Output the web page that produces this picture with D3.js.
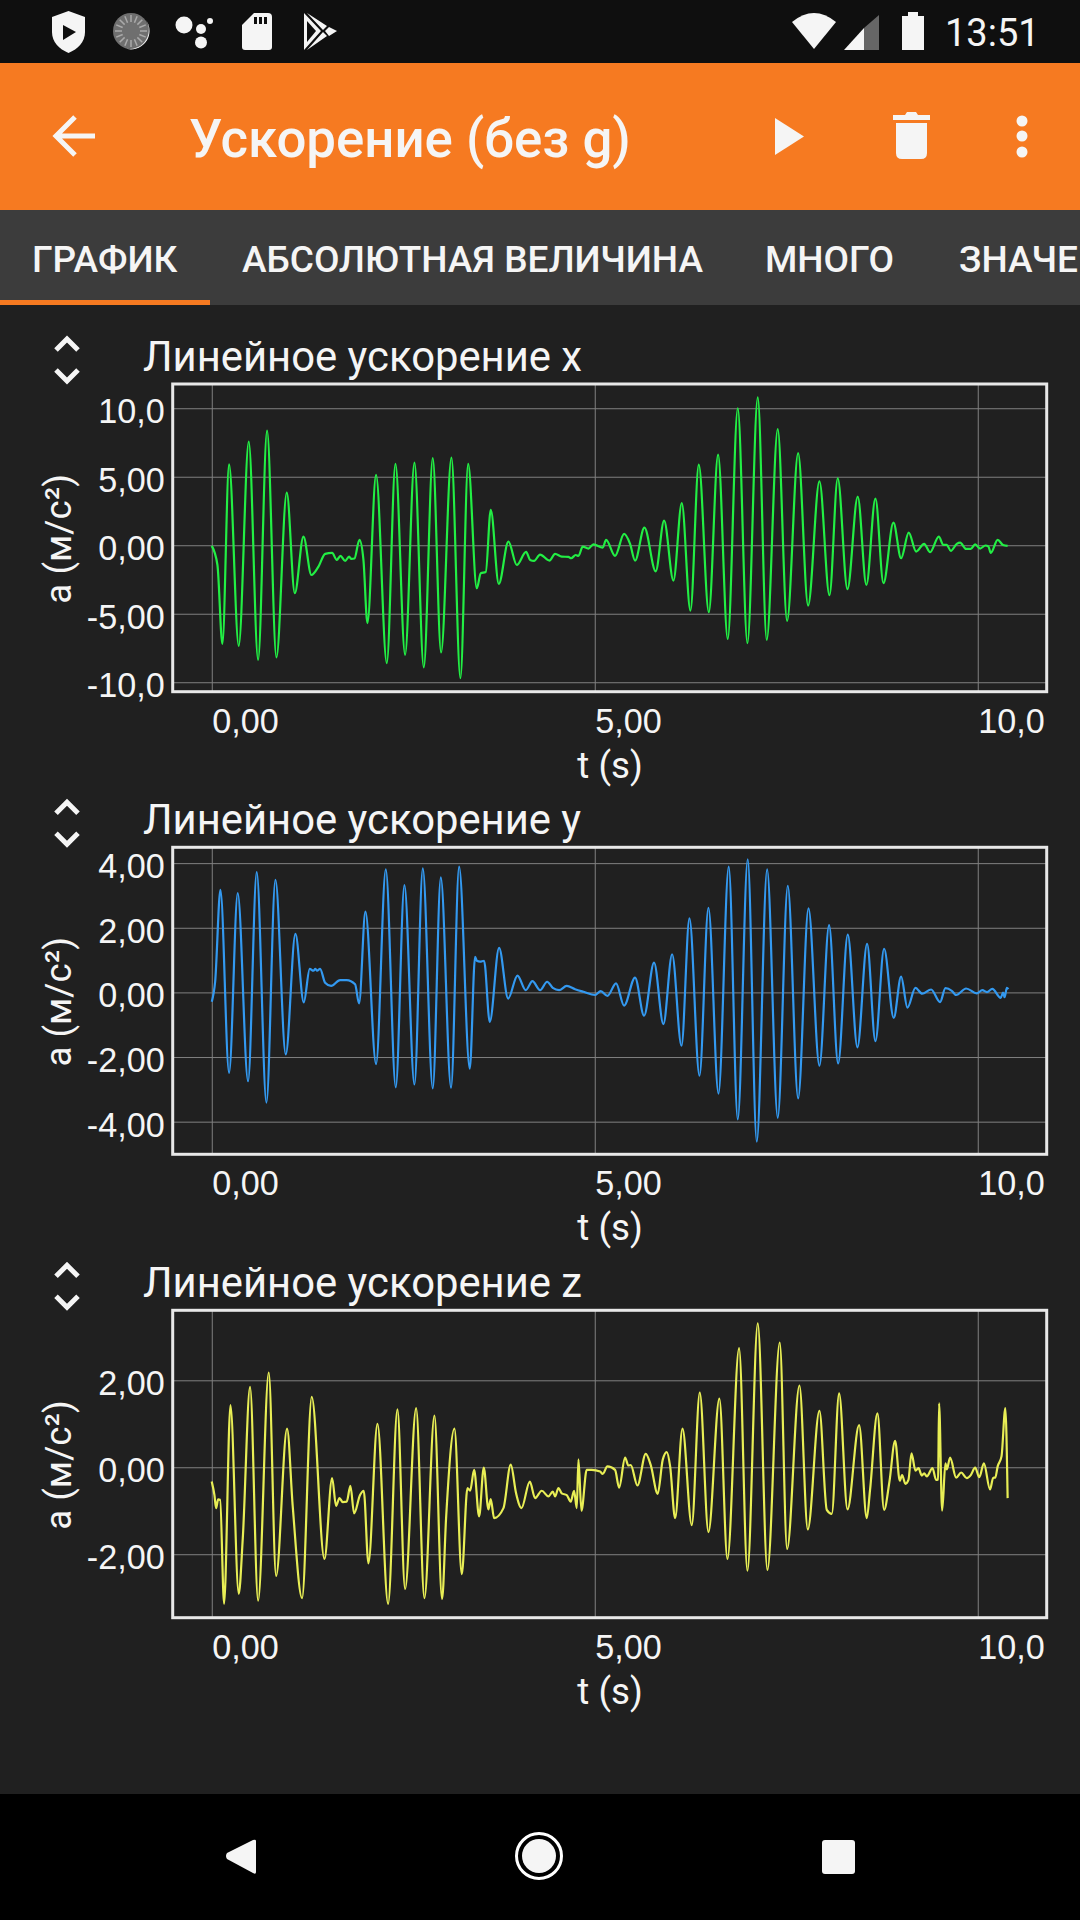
<!DOCTYPE html>
<html lang="ru">
<head>
<meta charset="utf-8">
<title>Ускорение (без g)</title>
<script src="https://cdn.jsdelivr.net/npm/d3@7"></script>
<style>
    html, body { margin: 0; padding: 0; background: #202020; }
    svg { display: block; font-family: Roboto, sans-serif; }
    text { fill: #f5f5f5; }
</style>
</head>
<body>
<svg id="chart" width="1080" height="1920"></svg>
<script>
// Values: turning points of each trace, in s and m/s²
const timeX = [0,0.074,0.139,0.226,0.352,0.483,0.605,0.722,0.844,0.979,1.084,1.197,1.301,1.393,1.48,1.571,1.632,1.68,1.741,1.793,1.823,1.862,1.928,1.98,2.032,2.145,2.285,2.398,2.524,2.646,2.768,2.885,2.994,3.129,3.246,3.347,3.46,3.512,3.577,3.642,3.747,3.873,3.982,4.104,4.156,4.208,4.286,4.408,4.482,4.569,4.656,4.691,4.752,4.787,4.843,4.917,4.983,5.104,5.148,5.265,5.383,5.461,5.526,5.648,5.796,5.905,6.027,6.136,6.249,6.358,6.489,6.61,6.736,6.867,6.993,7.128,7.245,7.389,7.511,7.655,7.785,7.933,8.064,8.172,8.299,8.433,8.546,8.664,8.769,8.899,8.999,9.099,9.195,9.3,9.378,9.491,9.552,9.596,9.648,9.726,9.77,9.848,9.909,9.966,10.03,10.1,10.14,10.17,10.26,10.33,10.39];
const accelX = [-0.05,-1.44,-7.2,5.91,-7.35,7.57,-8.37,8.37,-8.18,3.84,-3.5,0.63,-2.17,-1.56,-0.63,-0.56,-1.07,-0.78,-1.14,-0.83,-1,-0.97,0.39,-1.07,-5.69,5.13,-8.61,5.94,-8,6.03,-8.91,6.37,-7.83,6.4,-9.71,5.94,-3.14,-2.04,-1.95,2.58,-2.82,0.27,-1.44,-0.49,-1.07,-1.14,-0.68,-1.12,-0.63,-0.83,-0.85,-0.95,-0.71,-0.78,-0.1,-0.24,0.07,-0.17,0.39,-0.78,0.83,0.1,-1.12,1.29,-1.9,1.8,-2.58,3.07,-4.77,5.89,-4.89,6.62,-6.84,10,-7.15,10.8,-6.91,8.47,-5.52,6.72,-4.4,4.67,-3.65,4.89,-3.21,3.55,-2.9,3.41,-2.77,1.65,-0.95,0.92,-0.46,0.1,-0.51,0.63,0.02,0.02,-0.41,0.1,0.19,-0.27,-0.27,0.07,-0.24,-0.02,-0.1,-0.56,0.39,0.02,-0.05];

const timeY = [0,0.044,0.113,0.226,0.339,0.474,0.587,0.714,0.831,0.966,1.092,1.201,1.279,1.327,1.353,1.375,1.414,1.48,1.558,1.675,1.762,1.871,1.923,2.006,2.145,2.272,2.402,2.515,2.646,2.755,2.885,2.99,3.124,3.229,3.368,3.438,3.46,3.503,3.555,3.629,3.751,3.869,3.991,4.099,4.186,4.286,4.378,4.452,4.534,4.634,4.743,4.852,5.004,5.078,5.165,5.278,5.383,5.526,5.644,5.774,5.896,6.01,6.132,6.236,6.367,6.484,6.615,6.749,6.867,6.997,7.115,7.25,7.389,7.52,7.655,7.79,7.933,8.059,8.177,8.303,8.429,8.555,8.664,8.777,8.903,8.999,9.082,9.186,9.274,9.391,9.508,9.578,9.661,9.718,9.848,9.987,10.06,10.12,10.19,10.3,10.33,10.35,10.38,10.4];
const accelY = [-0.29,0.33,3.17,-2.49,3.07,-2.75,3.72,-3.41,3.48,-1.92,1.81,-0.31,0.73,0.67,0.73,0.67,0.73,0.3,0.2,0.38,0.38,0.25,-0.34,2.5,-2.22,3.81,-2.94,3.32,-2.85,3.84,-2.97,3.56,-2.95,3.89,-2.36,1.1,0.98,0.95,0.98,-0.91,1.38,-0.19,0.52,0.07,0.35,0.07,0.33,0.14,0.07,0.2,0.1,0.02,-0.08,0.04,-0.11,0.28,-0.41,0.46,-0.72,0.92,-0.98,1.18,-1.65,2.29,-2.58,2.62,-3.13,3.89,-3.93,4.12,-4.62,3.81,-3.88,3.3,-3.28,2.6,-2.27,2.08,-2.2,1.79,-1.7,1.5,-1.51,1.35,-0.79,0.49,-0.47,0.14,-0.04,0.09,-0.3,0.13,0.05,-0.08,0.12,-0.03,0.07,0.01,0.11,-0.17,-0.01,-0.15,0.14,0.1];

const timeZ = [0,0.035,0.057,0.083,0.109,0.161,0.244,0.352,0.405,0.5,0.605,0.744,0.84,0.983,1.057,1.179,1.305,1.471,1.571,1.623,1.667,1.71,1.762,1.81,1.858,1.936,1.984,2.045,2.163,2.302,2.424,2.524,2.668,2.776,2.907,3.007,3.059,3.168,3.264,3.338,3.373,3.425,3.49,3.551,3.612,3.642,3.686,3.808,3.903,3.973,4.043,4.152,4.221,4.308,4.395,4.452,4.482,4.526,4.569,4.634,4.686,4.73,4.765,4.787,4.826,4.895,4.961,5.07,5.104,5.165,5.265,5.318,5.396,5.439,5.47,5.557,5.666,5.731,5.822,5.887,5.94,5.984,6.049,6.145,6.266,6.371,6.484,6.627,6.732,6.884,6.993,7.128,7.254,7.415,7.511,7.672,7.781,7.933,8.029,8.094,8.19,8.299,8.451,8.551,8.594,8.69,8.777,8.847,8.921,8.982,9.012,9.056,9.095,9.135,9.187,9.226,9.27,9.3,9.335,9.409,9.456,9.482,9.495,9.535,9.578,9.596,9.639,9.718,9.783,9.857,9.909,9.966,10.02,10.08,10.16,10.2,10.23,10.26,10.31,10.36,10.39];
const accelZ = [-0.33,-0.64,-0.94,-0.74,-0.75,-3.14,1.43,-2.91,-1.63,1.85,-3.07,2.18,-2.5,0.89,-0.9,-3.01,1.62,-2.11,-0.25,-0.89,-0.71,-0.8,-0.79,-0.43,-1.06,-0.64,-0.54,-2.21,1,-3.14,1.33,-2.8,1.36,-3.01,1.19,-3.03,-1.17,0.89,-2.46,-0.48,-0.54,-0.06,-1.13,-0.01,-0.97,-0.73,-1.17,-0.94,0.06,-0.6,-0.94,-0.33,-0.71,-0.54,-0.67,-0.56,-0.67,-0.48,-0.6,-0.64,-0.79,-0.54,-0.94,0.18,-1,-0.06,-0.06,-0.1,-0.15,0.02,-0.06,-0.47,0.22,0.04,0.05,-0.42,0.31,0.05,-0.61,0.17,0.35,0.02,-1.17,0.89,-1.33,1.72,-1.49,1.58,-2.11,2.74,-2.38,3.31,-2.36,2.87,-1.88,1.88,-1.43,1.3,-0.98,-1.07,1.7,-0.97,0.97,-1.17,-0.52,1.24,-0.98,-0.33,0.61,-0.31,-0.18,-0.38,-0.29,0.32,-0.08,-0.02,-0.19,-0.14,-0.21,-0.02,-0.29,-0.28,1.47,-1,0.09,-0.05,0.22,-0.24,-0.12,-0.25,-0.18,-0.01,-0.23,0.09,-0.51,-0.25,-0.23,0.02,0.25,1.36,-0.71];

const xTicks = [0, 5, 10];
const xTickLabels = ["0,00", "5,00", "10,0"];
const yTicksX = [10, 5, 0, -5, -10];
const yLabelsX = ["10,0", "5,00", "0,00", "-5,00", "-10,0"];
const yTicksY = [4, 2, 0, -2, -4];
const yLabelsY = ["4,00", "2,00", "0,00", "-2,00", "-4,00"];
const yTicksZ = [2, 0, -2];
const yLabelsZ = ["2,00", "0,00", "-2,00"];
const tabs = ["ГРАФИК", "АБСОЛЮТНАЯ ВЕЛИЧИНА", "МНОГО", "ЗНАЧЕ"];

const svg = d3.select("#chart");

// Page chrome
svg.append("rect").attr("width", 1080).attr("height", 1920).attr("fill", "#202020");
svg.append("rect").attr("width", 1080).attr("height", 63).attr("fill", "#0f0f0f");
svg.append("rect").attr("y", 63).attr("width", 1080).attr("height", 147).attr("fill", "#f67a21");
svg.append("rect").attr("y", 210).attr("width", 1080).attr("height", 95).attr("fill", "#3c3c3c");
svg.append("rect").attr("y", 300).attr("width", 210).attr("height", 5).attr("fill", "#f67a21");
svg.append("rect").attr("y", 1794).attr("width", 1080).attr("height", 126).attr("fill", "#000");

const icons = svg.append("g").attr("fill", "#f5f5f5");
const iconPath = (d, fill) => icons.append("path").attr("d", d).attr("fill", fill || "#f5f5f5");

// Status bar, left side
iconPath("M68.5 11 L85 17 V32 C85 42 78 49 68.5 53 C59 49 52 42 52 32 V17 Z");
iconPath("M63 25 L76 32 L63 40 Z", "#0f0f0f");
icons.append("circle").attr("cx", 131).attr("cy", 31).attr("r", 18).attr("fill", "#6f6f6f");
iconPath("M146 20 A18.5 18.5 0 0 1 124 48 A19 19 0 0 0 146 20 Z");
d3.range(16).forEach((i) => {
    const a = (i / 16) * 2 * Math.PI;
    icons.append("line")
        .attr("x1", 131 + 9 * Math.cos(a)).attr("y1", 31 + 9 * Math.sin(a))
        .attr("x2", 131 + 16 * Math.cos(a)).attr("y2", 31 + 16 * Math.sin(a))
        .attr("stroke", "#aaa").attr("stroke-width", 1.5);
});
[[184, 25, 8.5], [201, 29, 5], [201, 42.5, 6], [210, 21, 3]].forEach(([cx, cy, r]) => {
    icons.append("circle").attr("cx", cx).attr("cy", cy).attr("r", r);
});
iconPath("M254 13 H268 Q272 13 272 17 V47 Q272 50 269 50 H245 Q242 50 242 47 V25 Z");
iconPath("M254 17 h3 v7 h-3 Z M259 17 h3 v7 h-3 Z M264 17 h3 v7 h-3 Z", "#0f0f0f");
iconPath("M304 13 L321 31 L304 50 Z M307 13 L327 26 L323 30 Z M307 50 L327 36 L323 32 Z M329 27 L337 31 L329 36 L325 31 Z");
iconPath("M307 21 L316 31 L307 42 Z", "#0f0f0f");

// Status bar, right side
iconPath("M792 22 Q814 4 836 22 L814 49 Z");
iconPath("M844 50 L864 28 V50 Z");
iconPath("M864 28 L879 15 V50 H864 Z", "#666");
iconPath("M908 16 V12 H918 V16 H924 V50 H902 V16 Z");
svg.append("text").attr("x", 945).attr("y", 46).attr("font-size", 38).text("13:51");

// Toolbar
icons.append("path")
    .attr("d", "M95 136 H56 M75 117 L56 136 L75 155")
    .attr("fill", "none")
    .attr("stroke", "#f5f5f5")
    .attr("stroke-width", 5);
svg.append("text").attr("x", 189).attr("y", 157)
    .attr("font-size", 52.8).attr("font-weight", 500).text("Ускорение (без g)");
iconPath("M775 118 L804 136.5 L775 155 Z");
iconPath("M893 115 H905 L907 112 H916 L918 115 H930 V120 H893 Z");
iconPath("M896 123 H927 V153 Q927 159 921 159 H902 Q896 159 896 153 Z");
[121, 136, 152].forEach((cy) => {
    icons.append("circle").attr("cx", 1022).attr("cy", cy).attr("r", 5.5);
});

// Tabs
const tabX = [32, 242, 765, 959];
svg.append("g").selectAll("text")
    .data(tabs)
    .join("text")
    .attr("x", (d, i) => tabX[i])
    .attr("y", 272)
    .attr("font-size", 37)
    .attr("font-weight", 500)
    .text((d) => d);

// Navigation bar
iconPath("M256 1841 V1872 Q256 1875 253 1873 L227 1859 Q225 1856 227 1853 L253 1840 Q256 1839 256 1841 Z");
icons.append("circle").attr("cx", 539).attr("cy", 1856).attr("r", 22.5)
    .attr("fill", "none").attr("stroke", "#fff").attr("stroke-width", 3);
icons.append("circle").attr("cx", 539).attr("cy", 1856).attr("r", 17);
icons.append("rect").attr("x", 822).attr("y", 1840).attr("width", 33).attr("height", 34).attr("rx", 3);

// The three graphs
const plots = [
    { title: "Линейное ускорение x", time: timeX, values: accelX, color: "#22ee44",
      yTicks: yTicksX, yLabels: yLabelsX, yDomain: [-10.69, 11.77], top: 384, bottom: 691.7 },
    { title: "Линейное ускорение y", time: timeY, values: accelY, color: "#3399f0",
      yTicks: yTicksY, yLabels: yLabelsY, yDomain: [-5.01, 4.49], top: 847.3, bottom: 1154.3 },
    { title: "Линейное ускорение z", time: timeZ, values: accelZ, color: "#e8ee55",
      yTicks: yTicksZ, yLabels: yLabelsZ, yDomain: [-3.46, 3.61], top: 1310.3, bottom: 1617.7 },
];

const left = 172.7;
const right = 1046.7;

plots.forEach((p) => {
    const x = d3.scaleLinear().domain([-0.51, 10.9]).range([left, right]);
    const y = d3.scaleLinear().domain(p.yDomain).range([p.bottom, p.top]);
    const g = svg.append("g");

    // Axes double as the grid, their ticks run across the plot
    const xAxis = g.append("g")
        .attr("transform", `translate(0,${p.bottom})`)
        .call(d3.axisBottom(x)
            .tickValues(xTicks)
            .tickFormat((d, i) => xTickLabels[i])
            .tickSize(-(p.bottom - p.top)));
    xAxis.select(".domain").remove();
    xAxis.selectAll("line").attr("stroke", "#808080").attr("stroke-width", 1);
    xAxis.selectAll("text")
        .attr("text-anchor", "start")
        .attr("x", 0)
        .attr("y", 0)
        .attr("dy", 41)
        .attr("font-size", 34.2)
        .attr("fill", "#f5f5f5");

    const yAxis = g.append("g")
        .attr("transform", `translate(${left},0)`)
        .call(d3.axisLeft(y)
            .tickValues(p.yTicks)
            .tickFormat((d, i) => p.yLabels[i])
            .tickSize(-(right - left)));
    yAxis.select(".domain").remove();
    yAxis.selectAll("line").attr("stroke", "#808080").attr("stroke-width", 1);
    yAxis.selectAll("text")
        .attr("x", -8)
        .attr("dy", "0.42em")
        .attr("font-size", 34.2)
        .attr("fill", "#f5f5f5");

    g.append("rect")
        .attr("x", left)
        .attr("y", p.top)
        .attr("width", right - left)
        .attr("height", p.bottom - p.top)
        .attr("fill", "none")
        .attr("stroke", "#e8e8e8")
        .attr("stroke-width", 3);

    const line = d3.line()
        .x((d, i) => x(p.time[i]))
        .y((d) => y(d))
        .curve(d3.curveMonotoneX);

    g.append("path")
        .datum(p.values)
        .attr("fill", "none")
        .attr("stroke", p.color)
        .attr("stroke-width", 2.2)
        .attr("stroke-linejoin", "round")
        .attr("d", line);

    // Labels
    g.append("text")
        .attr("x", 143)
        .attr("y", p.top - 13)
        .attr("font-size", 41.8)
        .text(p.title);

    g.append("text")
        .attr("x", 610)
        .attr("y", p.bottom + 86)
        .attr("text-anchor", "middle")
        .attr("font-size", 36.75)
        .text("t (s)");

    g.append("text")
        .attr("transform", `translate(71,${(p.top + p.bottom) / 2 + 1}) rotate(-90)`)
        .attr("text-anchor", "middle")
        .attr("font-size", 36.75)
        .text("a (м/с²)");

    // Expand/collapse chevrons
    g.append("path")
        .attr("d", `M56 ${p.top - 34} L67 ${p.top - 45} L78 ${p.top - 34} M56 ${p.top - 14} L67 ${p.top - 3} L78 ${p.top - 14}`)
        .attr("fill", "none")
        .attr("stroke", "#f5f5f5")
        .attr("stroke-width", 5);
});
</script>
</body>
</html>
